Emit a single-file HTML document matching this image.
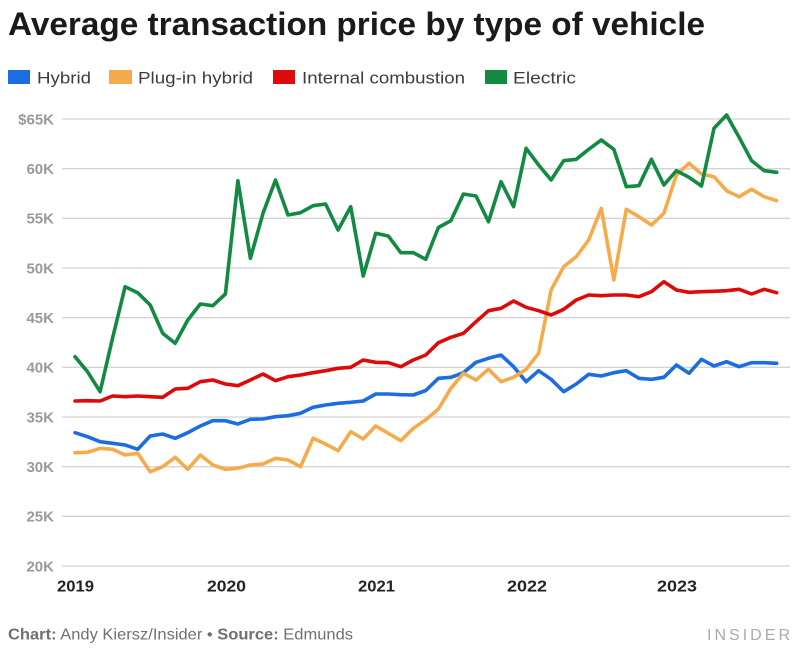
<!DOCTYPE html>
<html>
<head>
<meta charset="utf-8">
<style>
  html, body { margin: 0; padding: 0; background: #ffffff; }
  svg { display: block; }
  text { font-family: "Liberation Sans", Arial, sans-serif; }
</style>
</head>
<body>
<svg width="800" height="650" viewBox="0 0 800 650" xmlns="http://www.w3.org/2000/svg">
  <rect x="0" y="0" width="800" height="650" fill="#ffffff"/>

  <!-- Title -->
  <text x="8" y="35" font-size="32" font-weight="bold" fill="#1a1a1a" textLength="697" lengthAdjust="spacingAndGlyphs">Average transaction price by type of vehicle</text>

  <!-- Legend -->
  <rect x="8" y="70" width="22" height="14" fill="#1c6ee0"/>
  <text x="37" y="83.5" font-size="16.5" fill="#3d3d3d" textLength="54" lengthAdjust="spacingAndGlyphs">Hybrid</text>
  <rect x="109" y="70" width="23" height="14" fill="#f6ab4a"/>
  <text x="138" y="83.5" font-size="16.5" fill="#3d3d3d" textLength="115" lengthAdjust="spacingAndGlyphs">Plug-in hybrid</text>
  <rect x="273" y="70" width="22" height="14" fill="#dc0a0a"/>
  <text x="302" y="83.5" font-size="16.5" fill="#3d3d3d" textLength="163" lengthAdjust="spacingAndGlyphs">Internal combustion</text>
  <rect x="485" y="70" width="22" height="14" fill="#138a42"/>
  <text x="513" y="83.5" font-size="16.5" fill="#3d3d3d" textLength="63" lengthAdjust="spacingAndGlyphs">Electric</text>

  <!-- Gridlines -->
  <g stroke="#d4d4d4" stroke-width="1.3">
    <line x1="62" y1="119" x2="790" y2="119"/>
    <line x1="62" y1="168.7" x2="790" y2="168.7"/>
    <line x1="62" y1="218.3" x2="790" y2="218.3"/>
    <line x1="62" y1="268" x2="790" y2="268"/>
    <line x1="62" y1="317.7" x2="790" y2="317.7"/>
    <line x1="62" y1="367.3" x2="790" y2="367.3"/>
    <line x1="62" y1="417" x2="790" y2="417"/>
    <line x1="62" y1="466.7" x2="790" y2="466.7"/>
    <line x1="62" y1="516.3" x2="790" y2="516.3"/>
    <line x1="62" y1="566" x2="790" y2="566"/>
  </g>

  <!-- Y labels -->
  <g font-size="15" font-weight="bold" fill="#9a9a9a" text-anchor="end">
    <text x="54" y="124.3">$65K</text>
    <text x="54" y="174">60K</text>
    <text x="54" y="223.6">55K</text>
    <text x="54" y="273.3">50K</text>
    <text x="54" y="323">45K</text>
    <text x="54" y="372.6">40K</text>
    <text x="54" y="422.3">35K</text>
    <text x="54" y="472">30K</text>
    <text x="54" y="521.6">25K</text>
    <text x="54" y="571.3">20K</text>
  </g>

  <!-- X labels -->
  <g font-size="16" font-weight="bold" fill="#222222">
    <text x="57" y="591.5" textLength="37" lengthAdjust="spacingAndGlyphs">2019</text>
    <text x="207" y="591.5" textLength="39" lengthAdjust="spacingAndGlyphs">2020</text>
    <text x="358" y="591.5" textLength="37" lengthAdjust="spacingAndGlyphs">2021</text>
    <text x="507" y="591.5" textLength="40" lengthAdjust="spacingAndGlyphs">2022</text>
    <text x="657" y="591.5" textLength="40" lengthAdjust="spacingAndGlyphs">2023</text>
  </g>

  <!-- Series -->
  <g fill="none" stroke-width="3.6" stroke-linejoin="round" stroke-linecap="round">
    <!-- Hybrid -->
    <polyline stroke="#1c6ee0" points="75,432.7 87.5,436.7 100.1,441.7 112.6,443.3 125.1,445 137.7,449.3 150.2,436 162.7,434 175.2,438.3 187.8,432.7 200.3,426 212.8,420.7 225.4,420.7 237.9,424 250.4,419.3 263,419 275.5,416.7 288,415.7 300.5,413.3 313.1,407.3 325.6,405 338.1,403.3 350.7,402.3 363.2,401 375.7,394 388.3,394 400.8,394.7 413.3,395 425.8,390.5 438.4,378.3 450.9,377.3 463.4,372.7 476,362.3 488.5,358.3 501,355 513.6,366.7 526.1,381.7 538.6,370.7 551.1,379.3 563.7,391.7 576.2,384 588.7,374.3 601.3,376 613.8,372.7 626.3,370.7 638.9,378.3 651.4,379.3 663.9,377.3 676.4,365 689,373.3 701.5,359.3 714,366 726.6,361.7 739.1,366.7 751.6,362.7 764.2,362.7 776.7,363.3"/>
    <!-- Plug-in hybrid -->
    <polyline stroke="#f6ab4a" points="75,452.7 87.5,452.3 100.1,448.3 112.6,449.3 125.1,455 137.7,453.3 150.2,471.7 162.7,466.7 175.2,457.3 187.8,469.3 200.3,455 212.8,465 225.4,469.3 237.9,468.3 250.4,465 263,464 275.5,458.3 288,460 300.5,466.7 313.1,438.3 325.6,444 338.1,450.7 350.7,431.7 363.2,439 375.7,426 388.3,433.3 400.8,440.7 413.3,428.3 425.8,419.7 438.4,409 450.9,388.3 463.4,373.3 476,380 488.5,369.3 501,381.7 513.6,377.3 526.1,369.3 538.6,353.3 551.1,290 563.7,266.7 576.2,256.7 588.7,240 601.3,208.3 613.8,280 626.3,209.3 638.9,216.7 651.4,225 663.9,213.3 676.4,175 689,163.3 701.5,174 714,176.7 726.6,190.7 739.1,196.7 751.6,189.3 764.2,196.7 776.7,200.7"/>
    <!-- Internal combustion -->
    <polyline stroke="#dc0a0a" points="75,401 87.5,400.7 100.1,401 112.6,396 125.1,396.7 137.7,396 150.2,396.7 162.7,397.3 175.2,389 187.8,388.3 200.3,381.7 212.8,380 225.4,384 237.9,385.7 250.4,380 263,374 275.5,380.7 288,376.7 300.5,375 313.1,372.7 325.6,370.7 338.1,368.3 350.7,367.3 363.2,360 375.7,362.3 388.3,362.7 400.8,366.7 413.3,360 425.8,355 438.4,342.7 450.9,337.3 463.4,333.3 476,321.7 488.5,310.7 501,308.3 513.6,301 526.1,307.3 538.6,310.7 551.1,315 563.7,309.3 576.2,300 588.7,295 601.3,295.7 613.8,295 626.3,295 638.9,296.7 651.4,291.7 663.9,281.7 676.4,290 689,292.3 701.5,291.7 714,291.3 726.6,290.7 739.1,289.3 751.6,294 764.2,289.3 776.7,292.7"/>
    <!-- Electric -->
    <polyline stroke="#138a42" points="75,356.7 87.5,371.7 100.1,391.7 112.6,338 125.1,286.7 137.7,292.7 150.2,305 162.7,333.3 175.2,343.3 187.8,320 200.3,304 212.8,305.7 225.4,294 237.9,180.7 250.4,258.3 263,213.3 275.5,180 288,215 300.5,212.7 313.1,205.7 325.6,204 338.1,230 350.7,206.7 363.2,276 375.7,233.3 388.3,236 400.8,252.7 413.3,252.7 425.8,259.3 438.4,227.5 450.9,220.7 463.4,194 476,196 488.5,221.7 501,181.7 513.6,206.7 526.1,148.3 538.6,165 551.1,180 563.7,160.7 576.2,159.3 588.7,149.3 601.3,140 613.8,149.3 626.3,186.7 638.9,185.7 651.4,159.3 663.9,185 676.4,170.7 689,177.3 701.5,186 714,128.3 726.6,115 739.1,137.3 751.6,160.7 764.2,170.7 776.7,172.3"/>
  </g>

  <!-- Footer -->
  <text x="8" y="639.5" font-size="16" fill="#707070" textLength="345" lengthAdjust="spacingAndGlyphs"><tspan font-weight="bold">Chart:</tspan> Andy Kiersz/Insider • <tspan font-weight="bold">Source:</tspan> Edmunds</text>
  <text x="707" y="640" font-size="16" fill="#ababab" textLength="86" lengthAdjust="spacing" letter-spacing="3">INSIDER</text>
</svg>
</body>
</html>
